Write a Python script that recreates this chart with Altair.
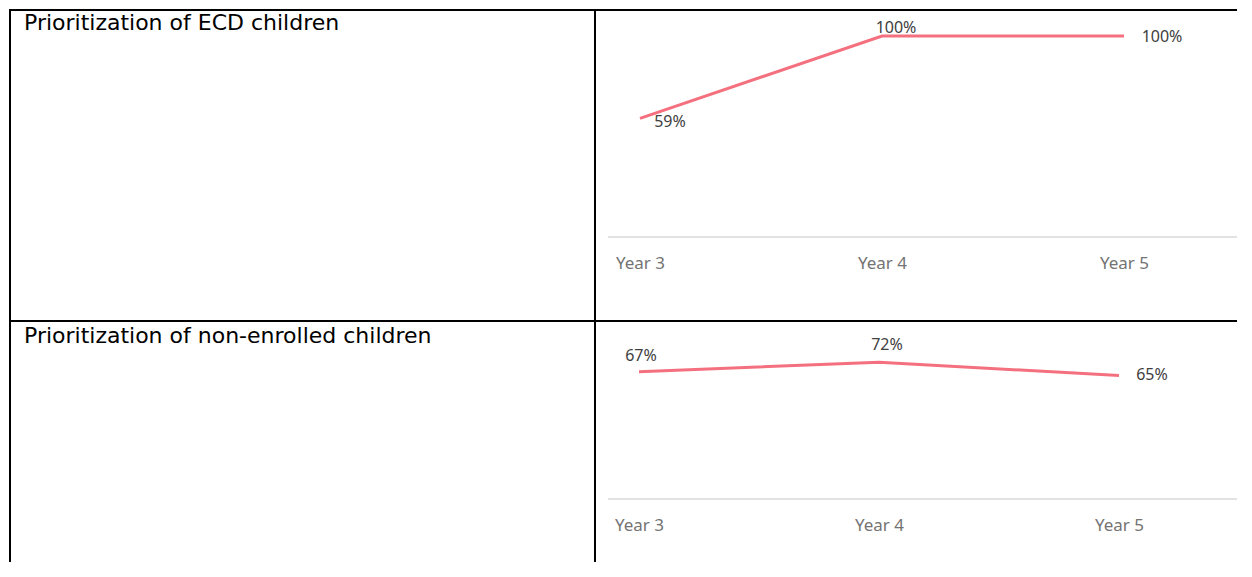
import altair as alt
import pandas as pd

rows = ["Prioritization of ECD children", "Prioritization of non-enrolled children"]
years = ["Year 3", "Year 4", "Year 5"]
ecd_values = [59, 100, 100]
nonenrolled_values = [67, 72, 65]

LINE_COLOR = "#f5707f"
BORDER = "#000000"
LABEL_W = 586
CHART_W = 642
ROW1_H = 311
ROW2_H = 242


def border_rule(**enc):
    return alt.Chart(pd.DataFrame({"d": [0]})).mark_rule(color=BORDER, strokeWidth=2).encode(**enc)


def label_cell(text, h, text_y):
    df = pd.DataFrame({"t": [text]})
    txt = alt.Chart(df).mark_text(
        align="left", baseline="alphabetic", font="DejaVu Sans", fontSize=22, color="#000000"
    ).encode(text="t:N", x=alt.value(15), y=alt.value(text_y))
    left = border_rule(x=alt.value(1), y=alt.value(0), y2=alt.value(h))
    right = border_rule(x=alt.value(LABEL_W), y=alt.value(0), y2=alt.value(h))
    top = border_rule(x=alt.value(0), x2=alt.value(LABEL_W), y=alt.value(1))
    return alt.layer(txt, left, right, top).properties(width=LABEL_W, height=h)


def chart_cell(values, h, x_range, y_range, axis_offset, offsets):
    df = pd.DataFrame({"year": years, "value": values, "label": [f"{v}%" for v in values]})
    xenc = alt.X(
        "year:N",
        scale=alt.Scale(type="point", domain=years, range=x_range, padding=0),
        axis=alt.Axis(
            title=None, orient="bottom", offset=axis_offset, domain=False, ticks=False,
            labelPadding=18, labelAngle=0, grid=False,
            labelColor="#737373", labelFontSize=17, labelFont="Noto Sans",
        ),
    )
    yenc = alt.Y(
        "value:Q",
        scale=alt.Scale(domain=[0, 100], range=y_range, nice=False, zero=False),
        axis=None,
    )
    line = alt.Chart(df).mark_line(color=LINE_COLOR, strokeWidth=3).encode(x=xenc, y=yenc)
    texts = []
    for yr, (dx, dy) in zip(years, offsets):
        texts.append(
            alt.Chart(df).mark_text(
                align="center", baseline="middle", dx=dx, dy=dy,
                font="Noto Sans", fontSize=16, color="#404040",
            ).encode(x=alt.X("year:N"), y=alt.Y("value:Q"), text="label:N")
            .transform_filter(alt.datum.year == yr)
        )
    zero = alt.Chart(pd.DataFrame({"value": [0]})).mark_rule(color="#d9d9d9", strokeWidth=1.5).encode(
        y=alt.Y("value:Q"), x=alt.value(13), x2=alt.value(CHART_W)
    )
    top = border_rule(x=alt.value(0), x2=alt.value(CHART_W), y=alt.value(1))
    return alt.layer(line, zero, *texts, top).properties(width=CHART_W, height=h)


cells = [
    label_cell(rows[0], ROW1_H, 21),
    chart_cell(ecd_values, ROW1_H, [45, 529], [228, 27], -(ROW1_H - 228),
               [(30, 4), (14, -8), (38, 1)]),
    label_cell(rows[1], ROW2_H, 23),
    chart_cell(nonenrolled_values, ROW2_H, [44, 524], [179, -11], -(ROW2_H - 179),
               [(2, -16), (8, -17), (33, -1)]),
]

chart = alt.concat(*cells, columns=2, spacing=0, bounds="flush").properties(
    padding=0, background="white"
).configure_view(stroke=None)

chart.save("out.html", embed_options={"renderer": "svg", "actions": False})
